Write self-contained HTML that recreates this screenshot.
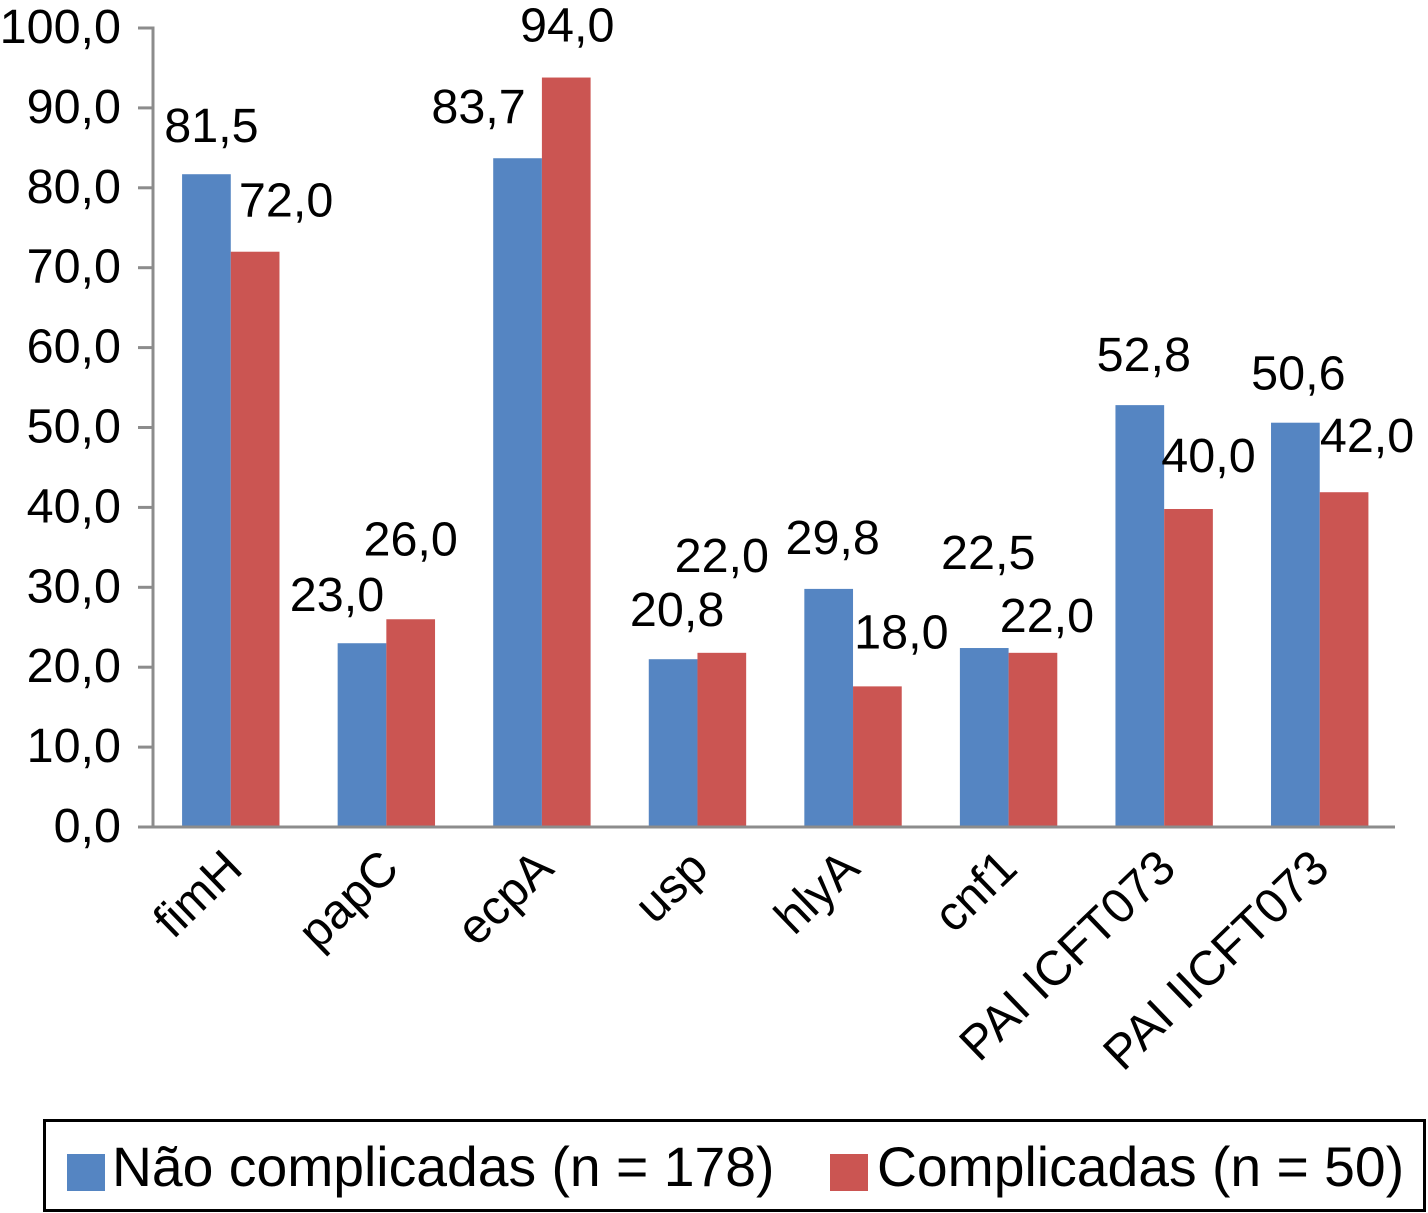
<!DOCTYPE html>
<html lang="pt">
<head>
<meta charset="utf-8">
<title>Chart</title>
<style>
html,body{margin:0;padding:0;background:#fff;}
svg{display:block;}
text{font-family:"Liberation Sans",Arial,sans-serif;fill:#000;}
</style>
</head>
<body>
<svg id="chart" xmlns="http://www.w3.org/2000/svg" width="1428" height="1213" viewBox="0 0 1428 1213"></svg>
<script>
const categories = ["fimH", "papC", "ecpA", "usp", "hlyA", "cnf1", "PAI ICFT073", "PAI IICFT073"];
const naoComplicadas = [81.7, 23.0, 83.7, 21.0, 29.8, 22.4, 52.8, 50.6];
const complicadas = [72.0, 26.0, 93.8, 21.8, 17.6, 21.8, 39.8, 41.9];
const printedNao = ["81,5", "23,0", "83,7", "20,8", "29,8", "22,5", "52,8", "50,6"];
const printedComp = ["72,0", "26,0", "94,0", "22,0", "18,0", "22,0", "40,0", "42,0"];
const yTicks = [0, 10, 20, 30, 40, 50, 60, 70, 80, 90, 100];
const yTickLabels = ["0,0", "10,0", "20,0", "30,0", "40,0", "50,0", "60,0", "70,0", "80,0", "90,0", "100,0"];
const seriesNames = ["Não complicadas (n = 178)", "Complicadas (n = 50)"];

const labelShiftBlue = [[5,-32],[-25,-32],[-39,-35],[4,-33],[4,-35],[4,-79],[4,-34],[3,-33]];
const labelShiftRed = [[31,-35],[0,-64],[1,-36],[0,-81],[24,-38],[14,-21],[20,-37],[23,-40]];
const catLabelShift = [-4,-3,-4,-5,-9,-7,-4,-6];

const svg = document.getElementById('chart');
const NS = 'http://www.w3.org/2000/svg';
const plotLeft = 153, plotRight = 1397.5, plotTop = 28, plotBottom = 827;
const FONT = 48.5, BLUE = '#5585c2', RED = '#cb5552', AXIS = '#8c8c8c';
const barW = 48.7;

function yScale(v){ return plotBottom - (v / 100) * (plotBottom - plotTop); }
function xCenter(i){ return plotLeft + (plotRight - plotLeft) * (i + 0.5) / categories.length; }
function make(tag, attrs, txt){
  const el = document.createElementNS(NS, tag);
  for (const k in attrs) el.setAttribute(k, attrs[k]);
  if (txt !== undefined) el.textContent = txt;
  svg.appendChild(el);
  return el;
}

// bars
categories.forEach(function(cat, i){
  const c = xCenter(i);
  const b = make('rect', {x: c - barW, y: yScale(naoComplicadas[i]), width: barW, height: plotBottom - yScale(naoComplicadas[i]), fill: BLUE});
  
  
  const r = make('rect', {x: c, y: yScale(complicadas[i]), width: barW, height: plotBottom - yScale(complicadas[i]), fill: RED});
  
  
});

// axes
const yAxis = make('line', {x1: plotLeft, x2: plotLeft, y1: plotTop - 1.5, y2: plotBottom + 1.5, stroke: AXIS, 'stroke-width': 3});


const xAxis = make('line', {x1: 138, x2: 1395, y1: plotBottom, y2: plotBottom, stroke: AXIS, 'stroke-width': 3});



// y ticks and labels
yTicks.forEach(function(t, i){
  const y = yScale(t);
  const tick = make('line', {x1: 138, x2: plotLeft, y1: y, y2: y, stroke: AXIS, 'stroke-width': 3});
  
  
  const lab = make('text', {x: 121, y: y + 15, 'text-anchor': 'end', 'font-size': 48.5}, yTickLabels[i]);
  
  
});

// category labels
categories.forEach(function(cat, i){
  const ax = xCenter(i) + 18 + catLabelShift[i], ay = 871;
  const lab = make('text', {x: ax, y: ay, 'text-anchor': 'end', 'font-size': 48.5, transform: 'rotate(-44 ' + ax + ' ' + ay + ')'}, cat);
  
  
});

// value labels
categories.forEach(function(cat, i){
  const c = xCenter(i);
  const a = make('text', {x: c - barW / 2 + labelShiftBlue[i][0], y: yScale(naoComplicadas[i]) + labelShiftBlue[i][1], 'text-anchor': 'middle', 'font-size': FONT}, printedNao[i]);
  
  
  const b = make('text', {x: c + barW / 2 + labelShiftRed[i][0], y: yScale(complicadas[i]) + labelShiftRed[i][1], 'text-anchor': 'middle', 'font-size': FONT}, printedComp[i]);
  
  
});

// legend
const box = make('rect', {x: 44.5, y: 1120.5, width: 1380, height: 90, fill: 'none', stroke: '#000', 'stroke-width': 3});


const sw1 = make('rect', {x: 67, y: 1154, width: 38, height: 37, fill: BLUE});


const t1 = make('text', {x: 112, y: 1186, 'font-size': 55.3}, seriesNames[0]);


const sw2 = make('rect', {x: 830, y: 1154, width: 38, height: 37, fill: RED});


const t2 = make('text', {x: 877, y: 1186, 'font-size': 55.3}, seriesNames[1]);


</script>
</body>
</html>
